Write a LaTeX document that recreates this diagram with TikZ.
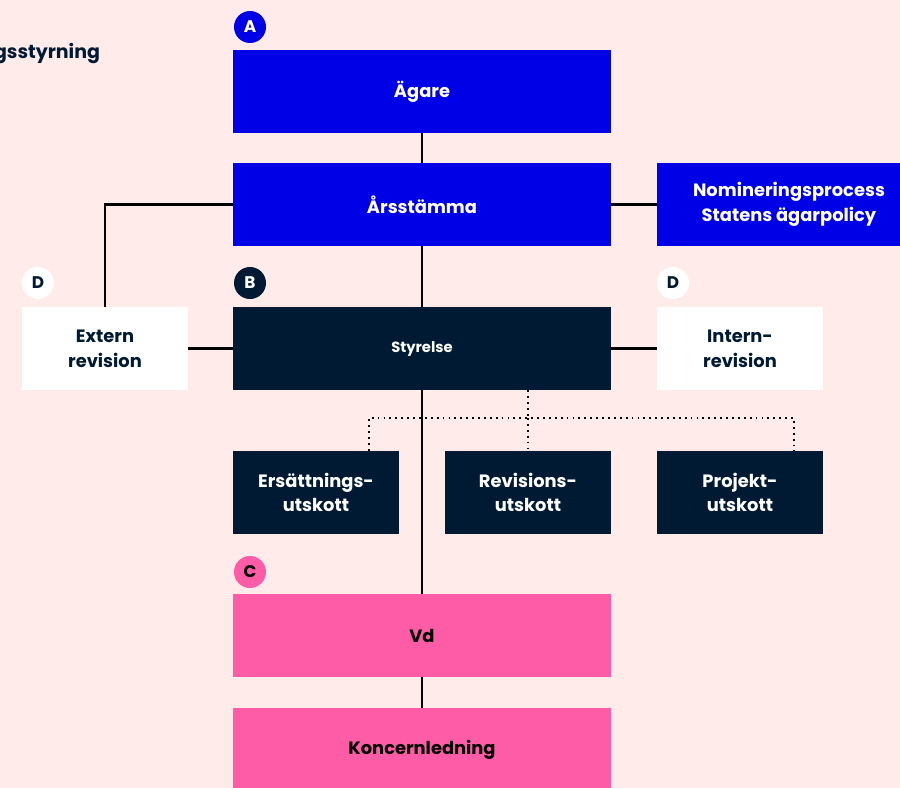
\documentclass[tikz,border=0pt]{standalone}
\usepackage{fontspec}
\setmainfont{Poppins}
\usepackage{tikz}
\usepackage{xcolor}
\definecolor{bgpink}{HTML}{FFEBEA}
\definecolor{ownblue}{HTML}{0000E6}
\definecolor{navy}{HTML}{001A33}
\definecolor{ceopink}{HTML}{FF5CA8}

\begin{document}
\begin{tikzpicture}[x=0.025cm,y=-0.025cm,
  box/.style={minimum width=9.45cm,minimum height=2.075cm,inner sep=0pt,align=center,
    font=\bfseries\fontsize{12.7}{17.5}\selectfont},
  smallbox/.style={box,minimum width=4.15cm},
  badge/.style={circle,minimum size=0.8cm,inner sep=0pt,font=\bfseries\fontsize{12}{12}\selectfont},
  conn/.style={line width=1.6pt},
  dots/.style={line width=1.5pt,dash pattern=on 1.3pt off 2.9pt}]
\useasboundingbox (0,0) rectangle (900,788);
\fill[bgpink] (0,0) rectangle (900,788);

\node[anchor=east,text=navy,font=\bfseries\fontsize{13.5}{15}\selectfont] (title) at (105,54) {gsstyrning};

\node[box,fill=ownblue,text=white] (agare) at (422,91.5) {Ägare};
\node[box,fill=ownblue,text=white] (arsst) at (422,204.5) {Årsstämma};
\node[box,minimum width=6.6cm,fill=ownblue,text=white] (nomin) at (789,204.5) {Nomineringsprocess\\Statens ägarpolicy};
\node[box,fill=navy,text=white,font=\bfseries\fontsize{10.5}{12}\selectfont] (styr) at (422,348.5) {Styrelse};
\node[smallbox,fill=white,text=navy] (extern) at (105,348.5) {Extern\\revision};
\node[smallbox,fill=white,text=navy] (intern) at (740,348.5) {Intern-\\revision};
\node[smallbox,fill=navy,text=white] (ersutsk) at (316,492.5) {Ersättnings-\\utskott};
\node[smallbox,fill=navy,text=white] (revutsk) at (528,492.5) {Revisions-\\utskott};
\node[smallbox,fill=navy,text=white] (projutsk) at (740,492.5) {Projekt-\\utskott};
\node[box,fill=ceopink,text=black] (vd) at (422,635.5) {Vd};
\node[box,fill=ceopink,text=black] (kled) at (422,749.5) {Koncernledning};

\node[badge,fill=ownblue,text=white] (ba) at (250,27) {A};
\node[badge,fill=navy,text=white] (bb) at (250,283) {B};
\node[badge,fill=ceopink,text=black] (bc) at (250,572) {C};
\node[badge,fill=white,text=navy] (bd1) at (38,283) {D};
\node[badge,fill=white,text=navy] (bd2) at (673,283) {D};

\coordinate (dotl) at (369,418);
\coordinate (dotm) at (528,418);
\coordinate (dotr) at (794,418);

\draw[conn] (agare) -- (arsst);
\draw[conn] (arsst) -- (nomin);
\draw[conn] (arsst.west) -| (extern.north);
\draw[conn] (arsst) -- (styr);
\draw[conn] (styr) -- (extern);
\draw[conn] (styr) -- (intern);
\draw[conn] (styr) -- (vd);
\draw[conn] (vd) -- (kled);

\draw[dots] (styr.south -| dotm) -- (dotm);
\draw[dots] (dotl |- ersutsk.north) -- (dotl) -- (dotr) -- (dotr |- projutsk.north);
\draw[dots] (dotm) -- (revutsk.north);
\end{tikzpicture}
\end{document}
